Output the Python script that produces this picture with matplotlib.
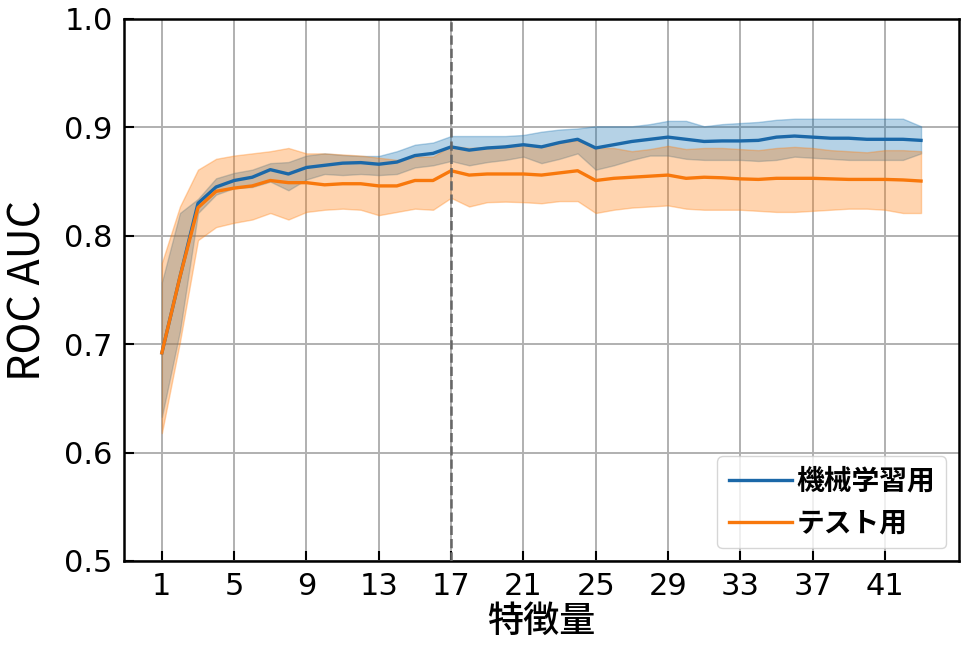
import matplotlib
matplotlib.use("Agg")
import matplotlib.pyplot as plt
import numpy as np

n_features = list(range(1, 44))

train_mean = [0.692, 0.762, 0.830, 0.845, 0.851, 0.854, 0.861, 0.857, 0.863, 0.865,
              0.867, 0.8675, 0.866, 0.868, 0.874, 0.876, 0.882, 0.879, 0.881, 0.882,
              0.884, 0.882, 0.886, 0.889, 0.881, 0.884, 0.887, 0.889, 0.891, 0.889,
              0.887, 0.8875, 0.8875, 0.888, 0.891, 0.892, 0.891, 0.890, 0.890, 0.889,
              0.889, 0.889, 0.888]
train_upper = [0.757, 0.821, 0.834, 0.853, 0.858, 0.861, 0.867, 0.868, 0.874, 0.876,
               0.8745, 0.8736, 0.8736, 0.878, 0.884, 0.886, 0.892, 0.892, 0.892, 0.892,
               0.893, 0.896, 0.898, 0.899, 0.901, 0.901, 0.901, 0.903, 0.906, 0.906,
               0.901, 0.903, 0.904, 0.905, 0.907, 0.908, 0.908, 0.908, 0.908, 0.908,
               0.908, 0.908, 0.901]
train_lower = [0.633, 0.712, 0.821, 0.838, 0.844, 0.845, 0.850, 0.842, 0.852, 0.857,
               0.856, 0.857, 0.856, 0.857, 0.863, 0.865, 0.869, 0.865, 0.868, 0.870,
               0.873, 0.867, 0.871, 0.876, 0.861, 0.865, 0.870, 0.874, 0.874, 0.871,
               0.870, 0.870, 0.870, 0.869, 0.870, 0.873, 0.872, 0.871, 0.870, 0.870,
               0.870, 0.870, 0.876]

test_mean = [0.692, 0.762, 0.826, 0.841, 0.844, 0.846, 0.851, 0.849, 0.849, 0.847,
             0.848, 0.848, 0.846, 0.846, 0.851, 0.851, 0.860, 0.856, 0.857, 0.857,
             0.857, 0.856, 0.858, 0.860, 0.851, 0.853, 0.854, 0.855, 0.856, 0.853,
             0.854, 0.8535, 0.8525, 0.852, 0.853, 0.853, 0.853, 0.8525, 0.852, 0.852,
             0.852, 0.8515, 0.8505]
test_upper = [0.775, 0.827, 0.861, 0.871, 0.874, 0.876, 0.878, 0.881, 0.876, 0.876,
              0.875, 0.874, 0.872, 0.870, 0.873, 0.873, 0.883, 0.881, 0.882, 0.883,
              0.884, 0.882, 0.886, 0.888, 0.881, 0.881, 0.878, 0.880, 0.883, 0.880,
              0.881, 0.881, 0.880, 0.879, 0.881, 0.882, 0.881, 0.879, 0.878, 0.877,
              0.879, 0.879, 0.878]
test_lower = [0.618, 0.702, 0.796, 0.808, 0.812, 0.815, 0.821, 0.815, 0.822, 0.824,
              0.825, 0.824, 0.819, 0.822, 0.825, 0.824, 0.835, 0.827, 0.831, 0.8315,
              0.831, 0.830, 0.832, 0.832, 0.821, 0.824, 0.826, 0.827, 0.828, 0.825,
              0.824, 0.824, 0.824, 0.823, 0.822, 0.822, 0.823, 0.824, 0.825, 0.825,
              0.824, 0.821, 0.821]

series_labels = ["機械学習用", "テスト用"]
x_ticks = list(range(1, 44, 4))
y_ticks = [0.5, 0.6, 0.7, 0.8, 0.9, 1.0]
selected = 17

CJK = ["Noto Sans CJK JP", "DejaVu Sans"]

fig = plt.figure(figsize=(9.68, 6.52), dpi=100)
ax = fig.add_axes([0.128, 0.1396, 0.8627, 0.8313])

c_blue = "#1f77b4"
c_orange = "#ff7f0e"
ax.fill_between(n_features, train_lower, train_upper, color=c_blue, alpha=0.33, zorder=2)
ax.fill_between(n_features, test_lower, test_upper, color=c_orange, alpha=0.33, zorder=2)
ax.plot(n_features, train_mean, color="#1b68a8", lw=2.4, label=series_labels[0], zorder=3)
ax.plot(n_features, test_mean, color="#f8780c", lw=2.4, label=series_labels[1], zorder=3)
ax.axvline(selected, color="#666666", ls="--", lw=1.8, zorder=4)

ax.set_ylim(0.5, 1.0)
ax.set_xticks(x_ticks)
ax.set_yticks(y_ticks)
ax.set_yticklabels([f"{v:.1f}" for v in y_ticks])
ax.grid(True, color="#b0b0b0", lw=1.4, zorder=0)
ax.set_axisbelow(True)
ax.tick_params(direction="in", length=7, width=1.5, labelsize=22, pad=8)
for s in ax.spines.values():
    s.set_linewidth(1.8)

ax.set_xlabel("特徴量", fontsize=26, family=CJK, weight="medium", labelpad=2)
ax.set_ylabel("ROC AUC", fontsize=31, family=CJK, labelpad=10)

leg = ax.legend(loc="lower right", prop={"family": CJK, "size": 20, "weight": "bold"},
                handlelength=2.3, handletextpad=0.15, borderaxespad=0.45,
                framealpha=0.8)
for l in leg.get_lines():
    l.set_linewidth(2.4)

fig.savefig("out.png", dpi=100)
